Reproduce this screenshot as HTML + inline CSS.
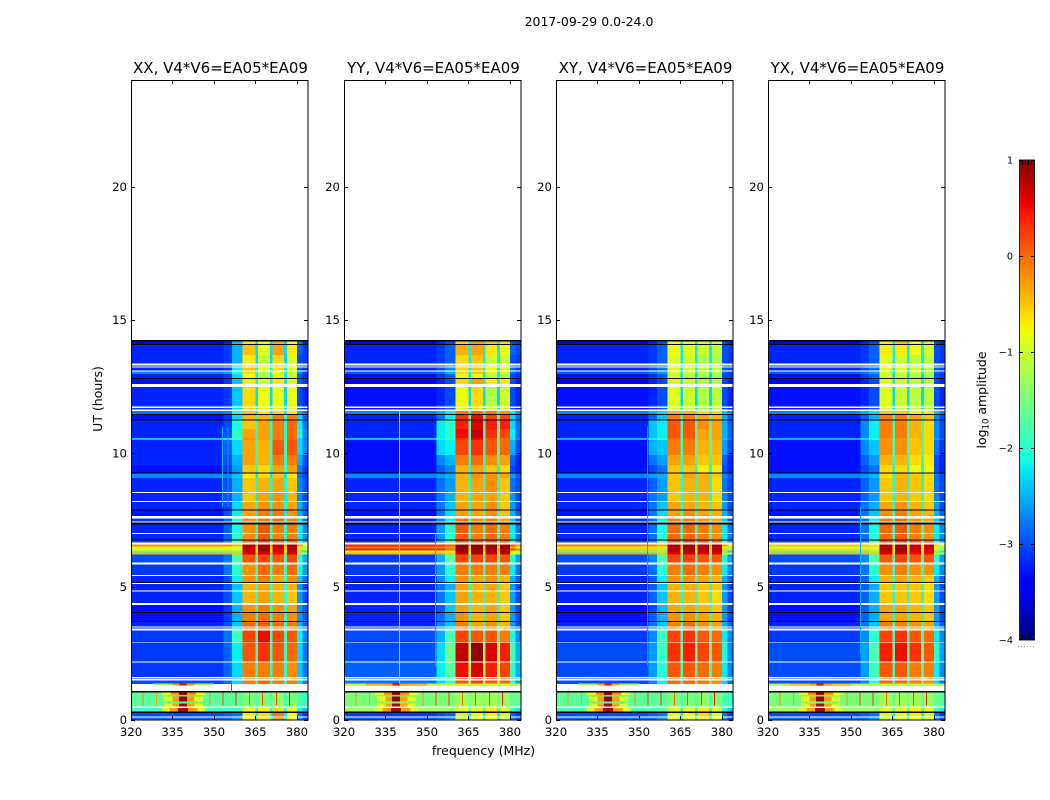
<!DOCTYPE html>
<html lang="en">
<head>
<meta charset="utf-8">
<title>2017-09-29 0.0-24.0</title>
<style>
html,body{margin:0;padding:0;background:#fff;width:1050px;height:800px;overflow:hidden}
svg{display:block}
text{font-family:"DejaVu Sans","Liberation Sans",sans-serif;fill:#000}
</style>
</head>
<body>
<svg id="chart" width="1050" height="800" viewBox="0 0 1050 800" xmlns="http://www.w3.org/2000/svg">
  <rect width="1050" height="800" fill="#fff"/>
  <text x="589" y="26" font-size="12.5" text-anchor="middle">2017-09-29 0.0-24.0</text>
  <text x="102" y="399" font-size="12.5" text-anchor="middle" transform="rotate(-90 102 399)">UT (hours)</text>
  <text x="483.5" y="755" font-size="12.5" text-anchor="middle">frequency (MHz)</text>
  <text x="986" y="400" font-size="12.5" text-anchor="middle" transform="rotate(-90 986 400)">log<tspan font-size="8.5" dy="2.5">10</tspan><tspan dy="-2.5"> amplitude</tspan></text>
  <g id="panels"></g>
  <g id="colorbar"></g>
</svg>
<script>
// ---- categories and tick labels ----
const panelTitles = ["XX, V4*V6=EA05*EA09","YY, V4*V6=EA05*EA09","XY, V4*V6=EA05*EA09","YX, V4*V6=EA05*EA09"];
const xTickLabels = [320,335,350,365,380];
const yTickLabels = [0,5,10,15,20];
const colorbarTickLabels = [-4,-3,-2,-1,0,1];

// frequency segment edges (MHz); column used by each segment of an amplitude row
const frequencyEdges = [320,353.5,356.5,360.4,365,366,370.2,371.2,375.4,376.4,380,382,384];
const segmentColumns = [0,1,2,3,4,5,4,6,4,7,8,9];

// time band edges (UT hours, top to bottom) and kind of each band: D data, W no data, K black flagged
const rowEdges = [14.25,14.20,14.10,14.06,13.69,13.37,13.29,13.25,13.21,13.11,13.07,12.98,12.82,12.79,12.60,12.49,11.81,11.75,11.70,11.64,11.59,11.48,11.44,11.27,11.23,10.91,10.58,10.50,9.94,9.56,9.28,9.24,9.08,8.55,8.51,8.21,8.18,7.89,7.86,7.65,7.56,7.44,7.40,7.34,7.02,6.98,6.77,6.73,6.65,6.59,6.50,6.44,6.35,6.29,6.20,5.90,5.84,5.44,5.40,5.18,5.14,5.10,4.85,4.81,4.38,4.31,4.05,4.01,3.71,3.68,3.50,3.46,3.43,3.36,2.91,2.88,2.19,2.15,1.62,1.56,1.53,1.49,1.35,1.09,1.04,0.50,0.45,0.31,0.26,0.13,0.09,0];
const rowKinds = ["K","D","K","D","D","W","D","W","D","W","D","D","K","D","W","D","D","W","D","W","D","K","D","K","D","D","D","D","D","D","K","D","D","W","D","W","D","K","D","W","D","W","K","D","W","D","K","D","W","D","D","D","D","D","D","W","D","W","D","K","W","D","W","D","W","D","K","D","K","D","W","D","W","D","W","D","W","D","W","D","W","D","W","K","D","W","D","K","D","W","D"];

// log10 amplitude per data band; columns: bg, rise1, rise2, block1, gap, block2, block3, block4, edge1, edge2
const ampXX = [
[-3.4,-3.2,-2.4,-.7,-2.3,-.8,-.4,-.8,-2.8,-3.2],[-3.2,-3.1,-2.5,-.5,-2.3,-.9,-.3,-.7,-2.9,-3.1],[-3.2,-3.1,-2.5,-.7,-2.3,-1.1,-.6,-.9,-3,-3.1],[-3.2,-3.1,-2.3,-.6,-2.2,-.9,-.5,-.8,-2.9,-3.1],
[-3.2,-3.1,-2.2,-.5,-2.2,-.9,-.6,-.9,-2.9,-3.1],[-2.7,-2.6,-2,-.6,-2.1,-1.2,-.8,-1,-2.7,-3],[-3.2,-3.1,-2.3,-.8,-2.2,-1.2,-.9,-1.1,-2.9,-3.1],[-3.3,-3.1,-2.4,-.7,-2.2,-1,-.7,-.9,-2.9,-3.1],
[-3.2,-3.1,-2.4,-.6,-2.3,-.8,-.8,-.8,-3,-3.2],[-3.1,-3,-2.3,-.6,-2.2,-.8,-.8,-.8,-2.9,-3.1],[-3.1,-3,-2.3,-.6,-2.2,-.8,-.7,-.8,-2.9,-3.1],[-2.8,-2.7,-2.1,-.5,-2.2,-.7,-.6,-.7,-2.5,-2.8],
[-3.3,-3.1,-2.3,-.4,-2,-.4,-.1,-.1,-2.3,-2.9],[-3.2,-3,-2.1,-.5,-2,-.3,-.1,0,-2.2,-2.8],[-3.2,-3,-2,-.3,-2,-.3,-.1,0,-2.1,-2.7],[-2.4,-2.2,-1.8,-.2,-2.1,-.3,-.1,0,-2.3,-2.8],
[-3.2,-2.9,-2.3,-.3,-1.9,-.4,.1,.1,-2.3,-2.7],[-3.2,-3,-2.5,-.3,-2,-.4,-.1,-.1,-2.5,-3],[-3.3,-3.1,-2.6,-.5,-2,-.6,-.3,-.3,-2.7,-3.1],[-2.7,-2.7,-2.4,-.7,-2.2,-.6,-.5,-.7,-2.8,-3],
[-3.2,-3,-2.5,-.5,-2.1,-.4,-.3,-.5,-2.7,-3],[-3.2,-3,-2.5,-.5,-2.2,-.3,-.2,-.4,-2.7,-3],[-3.2,-3,-2.3,-.3,-2.1,-.2,-.2,-.3,-2.5,-2.9],[-3.3,-3,-2.2,-.3,-2.2,-.1,-.1,-.2,-2.5,-2.9],
[-3.1,-2.9,-2.1,-.2,-2,-.1,0,-.1,-2.3,-2.8],[-3.2,-2.9,-2.1,-.2,-2,.1,-.1,-.1,-2.2,-2.7],[-3.2,-2.9,-2,-.2,-2,.1,-.1,-.1,-2.2,-2.7],[-3,-2.7,-1.7,0,-1.9,.2,0,0,-2,-2.5],
[-.2,-.2,-.4,.8,-.3,.9,.7,.8,-.3,-.8],[-.9,-.9,-1,.7,-.6,.8,.6,.7,-1,-1.3],[-.7,-.7,-.8,.7,-.5,.9,.6,.8,-.6,-.9],[-1.8,-1.7,-1.5,.7,-1,.8,.6,.7,-1.8,-2.2],
[-.4,-.4,-.5,.6,-.3,.7,.5,.6,-.6,-1],[-3,-2.8,-1.8,.1,-1.9,.2,.1,.2,-2,-2.5],[-3.1,-2.8,-2,-.2,-1.9,0,-.1,0,-2.1,-2.6],[-3.2,-3,-2.2,-.2,-2,-.1,-.3,-.2,-2.4,-2.8],
[-3.2,-3,-2.4,-.4,-2,-.3,-.4,-.4,-2.6,-3],[-3.2,-3,-2.4,-.4,-2,-.3,-.4,-.5,-2.6,-3],[-3.3,-3.1,-2.5,-.2,-2,-.1,-.2,-.3,-2.6,-2.9],[-3.3,-3.1,-2.5,-.1,-2,0,-.1,-.2,-2.6,-2.9],
[-3.2,-3,-2.4,0,-2,.1,0,-.1,-2.5,-2.9],[-3.2,-3,-2.4,0,-2,.1,0,-.1,-2.5,-2.9],[-3.1,-2.8,-1.9,.2,-1.9,.5,.2,.1,-2.2,-2.7],[-3.1,-2.9,-2.2,.1,-1.9,.3,.1,0,-2.3,-2.8],
[-3.1,-2.9,-2.3,-.1,-2,-.1,-.1,-.2,-2.4,-2.8],[-3.1,-2.9,-2.3,-.1,-2,-.1,-.1,-.2,-2.4,-2.8],[-3,-2.8,-2.3,-.1,-2,0,-.1,-.1,-2.3,-2.7],
[-1.7,-1.7,-1.7,-1.5,-1.8,-1.5,-1.4,-1.5,-1.8,-1.9],[-1.9,-1.9,-1.9,-.8,-2,-.7,-.6,-.8,-2.1,-2.4],[-3,-2.9,-2.8,-.7,-2.2,-.6,-.1,-.8,-2.8,-3.1],[-2.8,-2.8,-2.6,-.7,-2,-.7,-.2,-.8,-2.6,-3]
];
const ampYY = [
[-3.4,-3.2,-3,-.6,-2.2,-.3,-.5,-.6,-3,-3.1],[-3.2,-3.1,-2.9,-.4,-2.2,-.3,-.7,-.8,-2.9,-3],[-3.2,-3.1,-2.9,-.6,-2.2,-.5,-1,-1,-3,-3.1],[-3.1,-3,-2.7,-.6,-2.2,-.5,-.8,-.9,-2.8,-3],
[-3.2,-3,-2.7,-.6,-2.2,-.5,-.8,-.9,-2.8,-3],[-2.9,-2.8,-2.5,-.6,-2.2,-.5,-.7,-.9,-2.8,-3],[-3.3,-3.1,-2.9,-.9,-2.2,-.9,-1.2,-1.2,-3,-3.1],[-3.4,-3.2,-3,-.6,-2.2,-.3,-.7,-.7,-3,-3.2],
[-3.3,-3.2,-3,-.8,-2.3,-.6,-1.2,-1,-3,-3.2],[-3.3,-3.1,-2.9,-.7,-2.2,-.6,-1,-1,-3,-3.2],[-3.3,-3.1,-2.9,-.7,-2.2,-.6,-1,-1,-3,-3.2],[-2.7,-2.5,-2.2,-.1,-2,0,-.1,-.2,-2.2,-2.6],
[-3.2,-2.8,-2.2,.3,-1.9,.5,.2,.2,-2.3,-2.8],[-3.2,-2.2,-2,.4,-1.8,.6,.4,.4,-2.3,-2.8],[-3.2,-2.2,-2,.5,-1.8,.7,.3,.2,-2.2,-2.8],[-2.4,-2,-1.9,.3,-1.9,.5,.1,0,-2.2,-2.7],
[-3.3,-2.3,-2.2,.2,-1.9,.3,.1,0,-2.5,-3],[-3.3,-2.7,-2.5,-.1,-2,0,-.2,-.3,-2.9,-3.2],[-3.3,-2.9,-2.7,-.4,-2.1,-.3,-.5,-.6,-3,-3.2],[-2.7,-2.6,-2.5,-.4,-2.1,-.2,-.2,-.3,-2.6,-2.9],
[-3.2,-2.8,-2.6,-.4,-2.1,-.3,-.2,-.5,-2.8,-3],[-3.2,-2.8,-2.5,-.4,-2.1,-.3,-.3,-.5,-2.6,-3],[-3.2,-2.8,-2.4,-.3,-2.1,-.3,-.2,-.5,-2.6,-3],[-3.3,-2.8,-2.3,-.3,-2,-.3,-.2,-.5,-2.5,-2.9],
[-3.2,-2.7,-2.2,-.1,-2,-.2,-.1,-.3,-2.4,-2.9],[-3.2,-2.6,-2,.1,-2,-.1,0,-.1,-2.2,-2.8],[-3.2,-2.6,-2,.1,-2,-.1,0,-.1,-2.2,-2.8],[-3.1,-2.5,-1.8,.1,-1.9,.1,.1,0,-2,-2.6],
[.4,.3,.1,.9,-.2,.9,.9,.8,.1,-.2],[-.2,-.2,-.3,.9,-.7,.9,.8,.8,-.5,-.9],[.4,.4,0,.9,-.4,.9,.9,.8,.2,-.1],[-1,-1,-1,.9,-.7,.9,.8,.8,-1,-1.3],
[-.4,-.4,-.5,.7,-.7,.8,.7,.7,-.7,-1],[-3.1,-2.5,-1.7,.2,-1.9,.2,.2,.1,-2,-2.6],[-3.1,-2.6,-2,-.1,-2,-.1,-.1,-.1,-2.2,-2.8],[-3.2,-2.7,-2.2,-.2,-2,-.3,-.2,-.4,-2.5,-2.9],
[-3.2,-2.8,-2.5,-.3,-2.1,-.4,-.3,-.5,-2.6,-3],[-3.2,-2.8,-2.4,-.3,-2.1,-.4,-.4,-.5,-2.6,-3],[-3.2,-2.9,-2.4,-.3,-2.1,-.4,-.3,-.5,-2.6,-3],[-3.2,-2.8,-2.5,-.2,-2.1,-.4,-.3,-.5,-2.6,-3],
[-3.2,-2.7,-2.4,-.1,-2.1,-.3,-.2,-.4,-2.6,-3],[-3.2,-2.7,-2.4,-.1,-2.1,-.3,-.2,-.4,-2.6,-3],[-3,-2.5,-1.8,.2,-1.9,.1,.1,-.1,-2.1,-2.7],[-3,-2.3,-1.6,.7,-1.3,.9,.6,.4,-1.8,-2.5],
[-2.9,-2.2,-1.7,.5,-1.2,.6,.4,.2,-1.9,-2.5],[-2.9,-2.2,-1.7,.5,-1.2,.6,.4,.2,-1.9,-2.5],[-2.8,-2.3,-1.9,.1,-1.5,.2,.1,0,-2,-2.6],
[-1.5,-1.5,-1.5,-1.3,-1.5,-1.3,-1.3,-1.4,-1.6,-1.6],[-1.3,-1.3,-1.4,-.9,-1.8,-.9,-.7,-.9,-1.9,-2.2],[-3.1,-3,-2.9,-1,-2.2,-.9,-.7,-1,-2.9,-3.1],[-2.9,-2.8,-2.7,-1,-2.1,-.9,-.8,-1,-2.7,-3]
];
const ampXY = [
[-3.4,-3.2,-3,-.8,-2.2,-.8,-.9,-1,-3,-3.2],[-3.2,-3.1,-2.9,-.8,-2.2,-.9,-1,-1.1,-3,-3.1],[-3.2,-3.1,-2.9,-.9,-2.2,-1,-1.2,-1.2,-3,-3.1],[-3.1,-3,-2.8,-.9,-2.2,-1,-1.1,-1.1,-2.9,-3],
[-3.2,-3,-2.8,-.9,-2.2,-1,-1.1,-1.1,-2.9,-3],[-2.9,-2.8,-2.6,-.9,-2.2,-1,-1.1,-1.1,-2.9,-3],[-3.3,-3.1,-2.9,-1,-2.3,-1.2,-1.3,-1.3,-3,-3.1],[-3.4,-3.2,-3,-.9,-2.2,-1,-1.2,-1.2,-3,-3.2],
[-3.3,-3.2,-3,-.9,-2.3,-1,-1.2,-1.1,-3,-3.2],[-3.3,-3.1,-2.9,-.9,-2.2,-1,-1.2,-1.1,-3,-3.2],[-3.3,-3.1,-2.9,-.9,-2.2,-1,-1.2,-1.1,-3,-3.2],[-2.7,-2.5,-2.3,-.4,-2,-.4,-.6,-.6,-2.4,-2.7],
[-3.2,-2.9,-2.4,-.1,-1.9,-.1,-.3,-.4,-2.5,-2.9],[-3.2,-2.4,-2.2,.1,-1.9,.1,-.2,-.3,-2.5,-2.9],[-3.2,-2.4,-2.2,.1,-1.9,.1,-.3,-.3,-2.5,-2.9],[-2.5,-2.2,-2.1,0,-1.9,0,-.3,-.3,-2.4,-2.8],
[-3.3,-2.5,-2.4,-.1,-1.9,-.1,-.4,-.4,-2.6,-3],[-3.3,-2.8,-2.6,-.3,-2,-.3,-.5,-.5,-2.9,-3.2],[-3.3,-3,-2.8,-.5,-2.1,-.5,-.7,-.7,-3,-3.2],[-2.7,-2.6,-2.5,-.5,-2.1,-.3,-.4,-.5,-2.7,-2.9],
[-3.2,-2.9,-2.6,-.5,-2.1,-.4,-.4,-.6,-2.8,-3],[-3.2,-2.8,-2.6,-.5,-2.1,-.4,-.4,-.6,-2.7,-3],[-3.2,-2.8,-2.4,-.3,-2.1,-.3,-.4,-.5,-2.6,-3],[-3.3,-2.8,-2.3,-.3,-2,-.2,-.3,-.4,-2.5,-2.9],
[-3.1,-2.8,-2.2,-.1,-2,-.1,-.2,-.3,-2.4,-2.9],[-3.2,-2.8,-2.1,0,-2,0,-.1,-.2,-2.2,-2.8],[-3.2,-2.8,-2,0,-2,0,-.1,-.2,-2.2,-2.8],[-3,-2.7,-1.8,.1,-1.9,.2,.1,0,-2,-2.6],
[-.1,-.1,-.3,.8,-.4,.9,.8,.8,-.3,-.7],[-.8,-.8,-.9,.7,-.7,.8,.7,.7,-1,-1.3],[-.5,-.5,-.6,.8,-.5,.9,.8,.8,-.5,-.9],[-1.8,-1.7,-1.5,.7,-1,.8,.7,.7,-1.8,-2.3],
[-.3,-.3,-.5,.6,-.5,.7,.6,.6,-.6,-1],[-3,-2.7,-1.8,.2,-1.9,.2,.1,.1,-2,-2.6],[-3.1,-2.8,-2,-.1,-2,0,-.1,-.2,-2.2,-2.7],[-3.2,-2.9,-2.2,-.2,-2,-.2,-.3,-.4,-2.5,-2.9],
[-3.2,-2.9,-2.4,-.4,-2.1,-.4,-.5,-.5,-2.6,-3],[-3.2,-2.9,-2.4,-.4,-2.1,-.4,-.5,-.6,-2.6,-3],[-3.3,-3,-2.5,-.3,-2.1,-.3,-.4,-.5,-2.6,-3],[-3.3,-2.9,-2.5,-.2,-2.1,-.2,-.3,-.4,-2.6,-3],
[-3.2,-2.8,-2.4,-.1,-2.1,0,-.2,-.3,-2.5,-2.9],[-3.2,-2.8,-2.4,-.1,-2.1,0,-.2,-.3,-2.5,-2.9],[-3.1,-2.7,-1.9,.2,-1.9,.3,.1,0,-2.2,-2.7],[-3,-2.6,-1.9,.3,-1.7,.4,.2,.1,-2.1,-2.7],
[-3,-2.6,-2,.1,-1.9,.1,0,-.1,-2.2,-2.7],[-3,-2.6,-2,.1,-1.9,.1,0,-.1,-2.2,-2.7],[-3,-2.7,-2.2,0,-2,0,-.1,-.2,-2.3,-2.8],
[-1.7,-1.7,-1.7,-1.5,-1.8,-1.5,-1.4,-1.5,-1.8,-1.9],[-1.8,-1.8,-1.8,-.9,-2,-.9,-.7,-.9,-2.1,-2.4],[-3,-2.9,-2.8,-.9,-2.2,-.8,-.6,-.9,-2.8,-3.1],[-2.8,-2.8,-2.6,-.9,-2,-.8,-.7,-.9,-2.6,-3]
];
const ampYX = [
[-3.4,-3.2,-3,-.7,-2.2,-.5,-.8,-1,-3,-3.2],[-3.2,-3.1,-2.9,-.7,-2.2,-.7,-.8,-1,-3,-3.1],[-3.2,-3.1,-2.9,-.9,-2.2,-1,-1.1,-1.1,-3,-3.1],[-3.1,-3,-2.8,-.9,-2.2,-.9,-1,-1.1,-2.9,-3],
[-3.2,-3,-2.8,-.9,-2.2,-.9,-1,-1.1,-2.9,-3],[-2.9,-2.8,-2.6,-.9,-2.2,-.9,-1,-1.1,-2.9,-3],[-3.3,-3.1,-2.9,-1,-2.3,-1.1,-1.2,-1.3,-3,-3.1],[-3.4,-3.2,-3,-.9,-2.2,-1,-1.1,-1.2,-3,-3.2],
[-3.3,-3.2,-3,-.9,-2.3,-1,-1.1,-1.1,-3,-3.2],[-3.3,-3.1,-2.9,-.9,-2.2,-1,-1.1,-1.1,-3,-3.2],[-3.3,-3.1,-2.9,-.9,-2.2,-1,-1.1,-1.1,-3,-3.2],[-2.7,-2.5,-2.3,-.5,-2,-.5,-.7,-.7,-2.4,-2.7],
[-3.2,-2.9,-2.5,-.1,-1.9,-.1,-.3,-.5,-2.7,-3],[-3.2,-2.7,-2.2,-.1,-1.9,-.1,-.4,-.6,-2.7,-3],[-3.2,-2.7,-2.2,-.1,-1.9,-.1,-.4,-.6,-2.7,-3],[-2.5,-2.3,-2.1,-.2,-1.9,-.2,-.5,-.6,-2.6,-2.9],
[-3.3,-2.7,-2.4,-.2,-1.9,-.2,-.5,-.6,-2.8,-3.1],[-3.3,-2.9,-2.6,-.4,-2,-.4,-.6,-.7,-3,-3.2],[-3.3,-3,-2.8,-.6,-2.1,-.6,-.8,-.8,-3,-3.2],[-2.7,-2.6,-2.5,-.6,-2.1,-.4,-.5,-.6,-2.8,-3],
[-3.2,-2.9,-2.6,-.5,-2.1,-.4,-.5,-.6,-2.8,-3],[-3.2,-2.9,-2.6,-.5,-2.1,-.4,-.5,-.6,-2.7,-3],[-3.2,-2.8,-2.5,-.3,-2.1,-.2,-.4,-.5,-2.6,-3],[-3.3,-2.8,-2.4,-.2,-2,-.1,-.3,-.4,-2.5,-2.9],
[-3.1,-2.8,-2.2,-.1,-2,0,-.2,-.3,-2.4,-2.9],[-3.2,-2.8,-2.1,0,-2,.1,-.1,-.2,-2.2,-2.7],[-3.2,-2.8,-2,0,-2,.1,-.1,-.2,-2.2,-2.7],[-3,-2.7,-1.8,.1,-1.9,.2,.1,0,-2,-2.5],
[-.5,-.5,-.6,.8,-.6,.9,.7,.7,-.6,-1],[-1,-1,-1.1,.7,-.8,.8,.6,.6,-1.1,-1.4],[-.6,-.6,-.7,.8,-.7,.9,.7,.7,-.7,-1.1],[-1.8,-1.7,-1.5,.7,-1.1,.8,.6,.6,-1.8,-2.2],
[-.4,-.4,-.5,.6,-.6,.7,.5,.5,-.7,-1.1],[-3,-2.7,-1.8,.1,-1.9,.2,.1,.1,-2,-2.6],[-3.1,-2.8,-2,-.2,-2,-.1,-.2,-.2,-2.2,-2.7],[-3.2,-2.9,-2.2,-.4,-2,-.3,-.4,-.5,-2.5,-2.9],
[-3.2,-2.9,-2.5,-.5,-2.1,-.5,-.5,-.6,-2.6,-3],[-3.2,-2.9,-2.5,-.5,-2.1,-.5,-.5,-.6,-2.6,-3],[-3.3,-2.9,-2.5,-.3,-2.1,-.3,-.4,-.5,-2.6,-3],[-3.3,-2.9,-2.5,-.3,-2.1,-.3,-.4,-.5,-2.6,-3],
[-3.2,-2.8,-2.4,-.1,-2.1,-.1,-.2,-.3,-2.5,-2.9],[-3.2,-2.8,-2.4,-.1,-2.1,-.1,-.2,-.3,-2.5,-2.9],[-3.1,-2.7,-2,.2,-1.9,.3,.1,0,-2.2,-2.7],[-3,-2.6,-1.8,.4,-1.7,.5,.3,.1,-2,-2.6],
[-3,-2.6,-1.9,.1,-1.9,.1,-.1,-.1,-2.2,-2.7],[-3,-2.6,-1.9,.1,-1.9,.1,-.1,-.1,-2.2,-2.7],[-3,-2.7,-2.1,0,-2,0,-.1,-.2,-2.3,-2.8],
[-1.5,-1.5,-1.5,-1.3,-1.6,-1.3,-1.3,-1.4,-1.6,-1.7],[-1.3,-1.3,-1.4,-.9,-1.8,-.9,-.7,-.9,-1.9,-2.2],[-3,-2.9,-2.8,-1,-2.2,-.9,-.7,-1,-2.8,-3.1],[-2.8,-2.8,-2.6,-1,-2,-.9,-.8,-1,-2.6,-3]
];
const panelAmplitudes = [ampXX,ampYY,ampXY,ampYX];

// thin burst lines above the 1 h gap, per panel: [startMHz, stopMHz, startHour, stopHour, log10 amplitude]
const burstLines = [
[[328,350,1.36,1.31,-1.2]],
[[320,384,1.36,1.28,-1],[328,350,1.36,1.29,-.4]],
[[328,350,1.36,1.31,-1.2]],
[[320,384,1.36,1.28,-1.1],[328,350,1.36,1.29,-.5]]
];
// narrowband hump around 338.8 MHz: [startMHz, stopMHz, startHour, stopHour, log10 amplitude]
const interferenceHump = [
[331,347,1.04,.94,-.9],[334.5,343.5,1.04,.94,-.2],[337.3,340.3,1.04,.93,.8],
[332,346,.88,.69,-.9],[335,343,.88,.69,-.3],[337.4,340.2,.88,.69,.9],
[332,346,.62,.5,-.9],[335,343,.62,.5,-.3],[337.4,340.2,.62,.5,.8],
[331,347,.45,.31,-.9],[334,344,.45,.31,-.3],[337,340.6,.45,.31,.8],
[335,343,1.36,1.3,-.3],[337.5,340,1.38,1.3,.5]
];
// comb of spurs in the 0.55-1.05 h burst
const spurFrequencies = [324.3,329.3,334,343.6,348.5,353.2,358,362.8,367.5,372.6,377.4];
const spurLevels = [-.2,-.3,-.3,-.3,-.2,.2,.3,0,.1,.2,.4];
// persistent vertical lines per panel: [MHz, startHour, stopHour, log10 amplitude]
const verticalLines = [
[[353,11,8,-2.5],[355,11,8,-2.6],[356.4,1.49,1.04,.3]],
[[340,11.59,1.35,-1.8],[353,7,2,-2.5]],
[[353,11,2,-2.6]],
[[353.5,8,2.5,-2.5]]
];

// ---- layout and scales ----
const SVGNS = "http://www.w3.org/2000/svg";
const axesLeft = [131,344,556,768];
const axesWidth = 177;
const axesTop = 80;
const axesHeight = 640;
const xDomain = [320,384];
const yDomain = [0,24];
function xScale(p,f){return axesLeft[p]+(f-xDomain[0])/(xDomain[1]-xDomain[0])*axesWidth;}
function yScale(h){return axesTop+axesHeight-(h-yDomain[0])/(yDomain[1]-yDomain[0])*axesHeight;}
function cbScale(v){return 640-(v+4)/5*480;}
function interp(a,t){
  for(let i=1;i<a.length;i++){
    if(t<=a[i][0]){const k=(t-a[i-1][0])/(a[i][0]-a[i-1][0]);return a[i-1][1]+k*(a[i][1]-a[i-1][1]);}
  }
  return a[a.length-1][1];
}
const jetR=[[0,0],[.35,0],[.66,1],[.89,1],[1,.5]];
const jetG=[[0,0],[.125,0],[.375,1],[.64,1],[.91,0],[1,0]];
const jetB=[[0,.5],[.11,1],[.34,1],[.65,0],[1,0]];
function jet(v){
  const t=Math.max(0,Math.min(1,(v+4)/5));
  return "rgb("+Math.round(interp(jetR,t)*255)+","+Math.round(interp(jetG,t)*255)+","+Math.round(interp(jetB,t)*255)+")";
}
function mk(tag,parent,attrs){
  const el=document.createElementNS(SVGNS,tag);
  for(const k in attrs)el.setAttribute(k,attrs[k]);
  parent.appendChild(el);
  return el;
}
function fillRect(parent,x0,x1,y0,y1,color){
  return mk("rect",parent,{x:x0,y:y0,width:x1-x0,height:y1-y0,fill:color,"shape-rendering":"crispEdges"});
}

const panelsRoot=document.getElementById("panels");
panelTitles.forEach(function(title,p){
  const g=mk("g",panelsRoot,{});
  
  
  const amps=panelAmplitudes[p];
  let d=0;
  rowKinds.forEach(function(kind,r){
    const y0=yScale(rowEdges[r]), y1=yScale(rowEdges[r+1]);
    if(kind==="K"){
      const band=fillRect(g,xScale(p,xDomain[0]),xScale(p,xDomain[1]),y0,y1,"#000");
      
      
    }else if(kind==="D"){
      const row=amps[d++];
      segmentColumns.forEach(function(col,s){
        const cell=fillRect(g,xScale(p,frequencyEdges[s]),xScale(p,frequencyEdges[s+1]),y0,y1,jet(row[col]));
        
        
      });
    }
  });
  burstLines[p].forEach(function(b){
    const burst=fillRect(g,xScale(p,b[0]),xScale(p,b[1]),yScale(b[2]),yScale(b[3]),jet(b[4]));
    
    
  });
  verticalLines[p].forEach(function(l){
    const line=fillRect(g,xScale(p,l[0])-.5,xScale(p,l[0])+.5,yScale(l[1]),yScale(l[2]),jet(l[3]));
    
    
  });
  spurFrequencies.forEach(function(f,i){
    const spur=fillRect(g,xScale(p,f)-.5,xScale(p,f)+.5,yScale(1.04),yScale(.55),jet(spurLevels[i]));
    
    
  });
  interferenceHump.forEach(function(b){
    const blob=fillRect(g,xScale(p,b[0]),xScale(p,b[1]),yScale(b[2]),yScale(b[3]),jet(b[4]));
    
    
  });

  // frame
  const frame=mk("rect",g,{x:axesLeft[p]+.5,y:axesTop+.5,width:axesWidth-.5,height:axesHeight-.5,fill:"none",stroke:"#000","stroke-width":1});
  
  

  // ticks and labels
  xTickLabels.forEach(function(v){
    const x=Math.round(xScale(p,v))+.5;
    const t1=mk("line",g,{x1:x,x2:x,y1:axesTop,y2:axesTop+4,stroke:"#000"});
    
    
    const t2=mk("line",g,{x1:x,x2:x,y1:axesTop+axesHeight-4,y2:axesTop+axesHeight,stroke:"#000"});
    
    
    const lab=mk("text",g,{x:xScale(p,v),y:736,"font-size":11.7,"text-anchor":"middle"});
    lab.textContent=String(v);
    
    
  });
  yTickLabels.forEach(function(v){
    const y=Math.round(yScale(v))+.5;
    const t1=mk("line",g,{x1:axesLeft[p],x2:axesLeft[p]+4,y1:y,y2:y,stroke:"#000"});
    
    
    const t2=mk("line",g,{x1:axesLeft[p]+axesWidth-4,x2:axesLeft[p]+axesWidth,y1:y,y2:y,stroke:"#000"});
    
    
    const lab=mk("text",g,{x:axesLeft[p]-4,y:yScale(v)+4.2,"font-size":11.7,"text-anchor":"end"});
    lab.textContent=String(v);
    
    
  });
  const ttl=mk("text",g,{x:axesLeft[p]+axesWidth/2+1,y:73,"font-size":15,"text-anchor":"middle"});
  ttl.textContent=title;
  
  
});

// ---- colorbar ----
const cb=document.getElementById("colorbar");
for(let y=160;y<640;y+=2){
  const v=-4+(640-y-1)/96;
  const s=fillRect(cb,1019,1035,y,y+2,jet(v));
  
  
}
const cbFrame=mk("rect",cb,{x:1019.5,y:160,width:15,height:480,fill:"none",stroke:"#222","stroke-width":1});


colorbarTickLabels.forEach(function(v){
  const y=Math.round(cbScale(v))+(v===-4?-.5:.5);
  const t1=mk("line",cb,{x1:1019,x2:1023,y1:y,y2:y,stroke:"#000"});
  
  
  const t2=mk("line",cb,{x1:1031,x2:1035,y1:y,y2:y,stroke:"#000"});
  
  
  const lab=mk("text",cb,{x:1013,y:cbScale(v)+3.4,"font-size":9.7,"text-anchor":"end"});
  lab.textContent=String(v).replace("-","\u2212");
  
  
});
[1022,1025,1028,1031].forEach(function(x){
  const a=mk("line",cb,{x1:x+.5,x2:x+.5,y1:160,y2:165,stroke:"#000"});
  
  
  const b=mk("line",cb,{x1:x+.5,x2:x+.5,y1:635,y2:640,stroke:"#000"});
  
  
});
const dots=mk("line",cb,{x1:1018,x2:1035,y1:646.5,y2:646.5,stroke:"#999","stroke-dasharray":"1 2"});


</script>
</body>
</html>
